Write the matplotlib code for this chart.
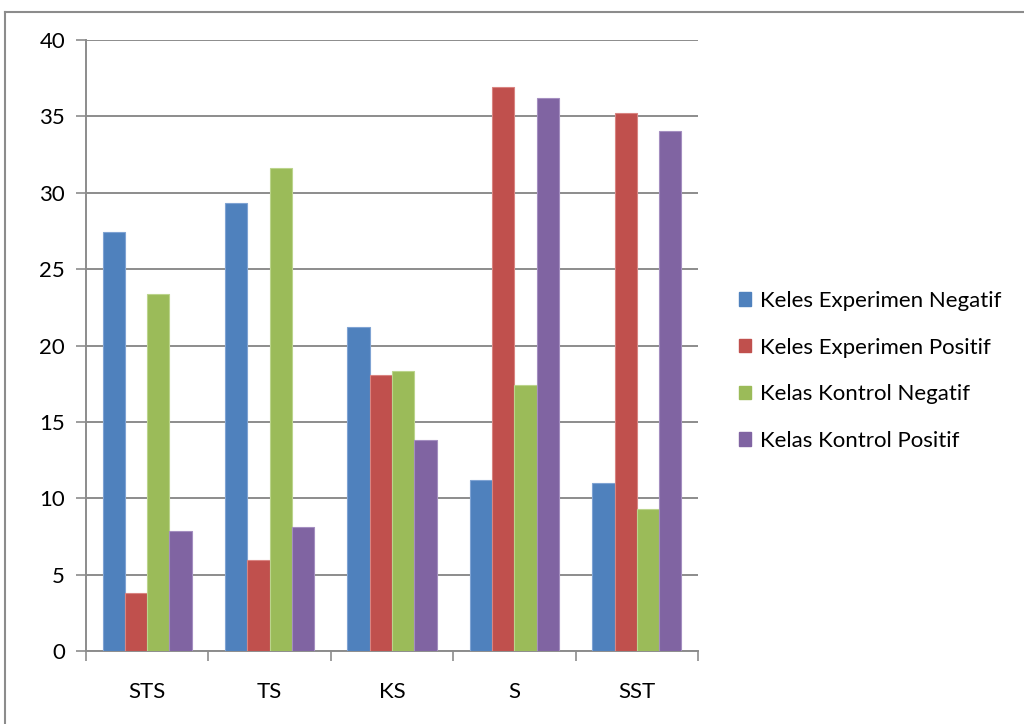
import matplotlib
matplotlib.use("Agg")
import matplotlib.pyplot as plt
import numpy as np
from matplotlib.lines import Line2D
from matplotlib.patches import Patch

categories = ["STS", "TS", "KS", "S", "SST"]
series_names = ["Keles Experimen Negatif", "Keles Experimen Positif",
                "Kelas Kontrol Negatif", "Kelas Kontrol Positif"]
exp_neg = [27.4, 29.3, 21.2, 11.2, 11.0]
exp_pos = [3.8, 5.95, 18.1, 36.9, 35.2]
kon_neg = [23.35, 31.65, 18.35, 17.4, 9.3]
kon_pos = [7.85, 8.1, 13.8, 36.2, 34.05]
yticks = [0, 5, 10, 15, 20, 25, 30, 35, 40]

colors = ["#4F81BD", "#C0504D", "#9BBB59", "#8064A2"]
edges = ["#7FA3D3", "#D98481", "#BBD48C", "#A48EC0"]

plt.rcParams['font.family'] = ['Lato', 'DejaVu Sans']

fig = plt.figure(figsize=(10.24, 7.24), dpi=100)
ax = fig.add_axes([86/1024, 1-651/724, (698-86)/1024, (651-40)/724])

n = len(categories)
x = np.arange(n)
bw = 1/5.5
data = [exp_neg, exp_pos, kon_neg, kon_pos]
for i, (vals, c, ec, name) in enumerate(zip(data, colors, edges, series_names)):
    ax.bar(x + (i - 1.5) * bw, vals, width=bw, color=c, edgecolor=ec,
           linewidth=0.8, label=name, zorder=3)

ax.set_xlim(-0.5, n - 0.5)
ax.set_ylim(0, 40)
ax.set_yticks(yticks)
ax.set_yticklabels([str(v) for v in yticks], fontsize=16)
ax.yaxis.grid(True, color="#8C8C8C", linewidth=1.4, zorder=0)
ax.set_axisbelow(True)

ax.set_xticks(x)
ax.set_xticklabels(categories, fontsize=16)
ax.tick_params(axis='x', length=0, pad=22)
ax.set_xticks(np.arange(-0.5, n, 1), minor=True)
ax.tick_params(axis='x', which='minor', length=7, width=1.2, color="#8C8C8C", direction='out')
ax.tick_params(axis='y', length=7, width=1.2, color="#8C8C8C", direction='out', pad=8)

for s in ['top', 'right']:
    ax.spines[s].set_visible(False)
for s in ['left', 'bottom']:
    ax.spines[s].set_color("#8C8C8C")
    ax.spines[s].set_linewidth(1.4)

handles = [Patch(facecolor=c, edgecolor=c) for c in colors]
leg = fig.legend(handles, series_names, loc='center left',
                 bbox_to_anchor=(719/1024, 1-371/724), frameon=False,
                 fontsize=16, handlelength=0.55, handleheight=0.55,
                 handletextpad=0.4, labelspacing=1.2)

# outer frame
fig.add_artist(Line2D([5/1024, 1.0], [1-12/724, 1-12/724], transform=fig.transFigure,
                      color="#8C8C8C", linewidth=1.5))
fig.add_artist(Line2D([5/1024, 5/1024], [1-12/724, 0.0], transform=fig.transFigure,
                      color="#8C8C8C", linewidth=1.5))

fig.savefig("out.png", dpi=100)
